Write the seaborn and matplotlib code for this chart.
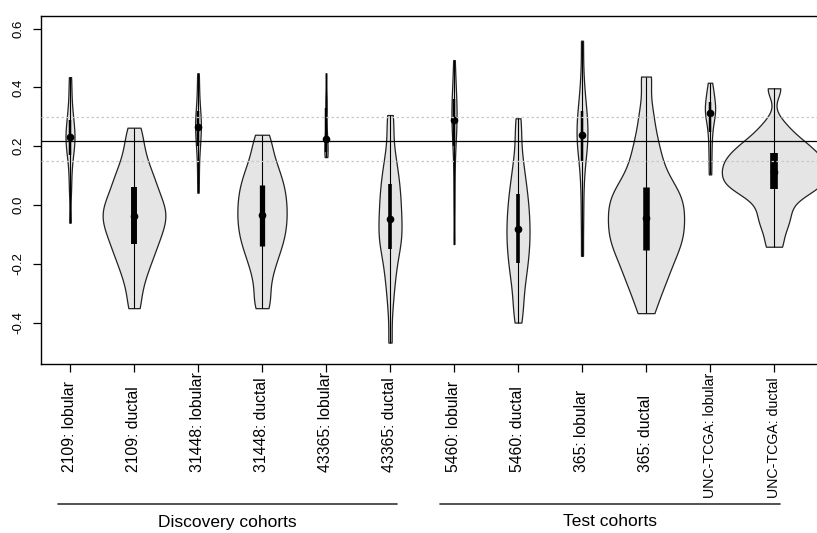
import numpy as np
import matplotlib
matplotlib.use("Agg")
import matplotlib.pyplot as plt
import matplotlib.transforms as mtransforms
import seaborn as sns

# categories (x axis)
labels = [
    "2109: lobular", "2109: ductal",
    "31448: lobular", "31448: ductal",
    "43365: lobular", "43365: ductal",
    "5460: lobular", "5460: ductal",
    "365: lobular", "365: ductal",
    "UNC-TCGA: lobular", "UNC-TCGA: ductal",
]
cohort_names = ["Discovery cohorts", "Test cohorts"]

# per-group values (quantile-like samples)
v_2109_lob = [-0.06, 0.05, 0.11, 0.16, 0.18, 0.20, 0.22, 0.23, 0.24, 0.26, 0.28, 0.30, 0.33, 0.38, 0.435]
v_2109_duc = [-0.351, -0.288, -0.242, -0.211, -0.185, -0.163, -0.143, -0.125, -0.108, -0.092,
              -0.077, -0.063, -0.050, -0.037, -0.025, -0.012, 0.002, 0.016, 0.031, 0.05,
              0.07, 0.088, 0.11, 0.135, 0.17, 0.212, 0.263]
v_31448_lob = [0.042, 0.10, 0.15, 0.19, 0.21, 0.23, 0.25, 0.264, 0.28, 0.29, 0.31, 0.33, 0.36, 0.40, 0.448]
v_31448_duc = [-0.351, -0.315, -0.262, -0.224, -0.193, -0.170, -0.149, -0.129, -0.113, -0.097,
               -0.081, -0.065, -0.050, -0.035, -0.020, -0.005, 0.011, 0.026, 0.042, 0.058,
               0.075, 0.092, 0.113, 0.136, 0.162, 0.203, 0.239]
v_43365_lob = [0.163, 0.17, 0.18, 0.20, 0.224, 0.25, 0.33, 0.36, 0.448]
v_43365_duc = [-0.468, -0.355, -0.289, -0.250, -0.215, -0.185, -0.160, -0.140, -0.125, -0.110,
               -0.095, -0.080, -0.062, -0.046, -0.029, -0.011, 0.007, 0.024, 0.042, 0.062,
               0.081, 0.102, 0.128, 0.155, 0.194, 0.267, 0.306]
v_5460_lob = [-0.133, 0.0, 0.10, 0.18, 0.22, 0.25, 0.27, 0.289, 0.31, 0.33, 0.35, 0.37, 0.40, 0.44, 0.493]
v_5460_duc = [-0.40, -0.36, -0.323, -0.282, -0.255, -0.228, -0.207, -0.188, -0.168, -0.149,
              -0.132, -0.115, -0.099, -0.082, -0.065, -0.047, -0.029, -0.012, 0.007, 0.027,
              0.048, 0.071, 0.098, 0.129, 0.169, 0.235, 0.295]
v_365_lob = [-0.173, -0.05, 0.05, 0.13, 0.17, 0.20, 0.22, 0.237, 0.26, 0.28, 0.31, 0.33, 0.37, 0.44, 0.559]
v_365_duc = [-0.368, -0.31, -0.275, -0.245, -0.22, -0.197, -0.175, -0.153, -0.138, -0.123,
             -0.107, -0.092, -0.076, -0.06, -0.045, -0.029, -0.013, 0.003, 0.018, 0.033,
             0.048, 0.062, 0.09, 0.12, 0.155, 0.195, 0.245, 0.32, 0.437]
v_unc_lob = [0.104, 0.16, 0.21, 0.25, 0.28, 0.30, 0.312, 0.325, 0.34, 0.35, 0.37, 0.39, 0.416]
v_unc_duc = [-0.142, -0.087, -0.050, -0.023, 0.012, 0.035, 0.05, 0.062, 0.067, 0.077,
             0.087, 0.098, 0.108, 0.118, 0.127, 0.137, 0.147, 0.157, 0.167, 0.178,
             0.191, 0.204, 0.220, 0.240, 0.276, 0.397]

samples = [v_2109_lob, v_2109_duc, v_31448_lob, v_31448_duc, v_43365_lob, v_43365_duc,
           v_5460_lob, v_5460_duc, v_365_lob, v_365_duc, v_unc_lob, v_unc_duc]

# reference lines
ref_line = 0.218
ref_band = [0.15, 0.30]
yticks = [-0.4, -0.2, 0.0, 0.2, 0.4, 0.6]

# styling: violin widths (category units)
violin_widths = [0.14, 0.98, 0.09, 0.77, 0.05, 0.36, 0.08, 0.36, 0.17, 1.19, 0.16, 1.63]
fill = "#e5e5e5"

sns.set_style("ticks")
plt.rcParams["font.family"] = ["Liberation Sans", "DejaVu Sans"]
plt.rcParams["text.color"] = "black"
plt.rcParams["ytick.labelcolor"] = "black"

W, H = 817, 533
fig = plt.figure(figsize=(W / 100, H / 100), dpi=100)
ax = fig.add_axes([41 / W, 1 - 364 / H, 1 - 41 / W, (364 - 16) / H])

for i, (lab, vals, w) in enumerate(zip(labels, samples, violin_widths)):
    sns.violinplot(x=[lab] * len(vals), y=vals, order=labels, width=w, cut=0,
                   density_norm="width", inner=None, color=fill, saturation=1,
                   linecolor="#222222", linewidth=0.9, bw_adjust=0.55, ax=ax)
    q1, med, q3 = np.percentile(vals, [25, 50, 75])
    # box width grows with the violin, like the original vioplot
    box_lw = max(2.5, 0.75 * np.sqrt(w * 64)) * 0.72
    ax.vlines(i, min(vals), max(vals), color="black", lw=0.8, zorder=3)
    ax.vlines(i, q1, q3, color="black", lw=box_lw, zorder=4, capstyle="butt")
    ax.plot(i, med, "o", color="black", ms=4.5, zorder=5)

ax.axhline(ref_line, color="black", lw=0.9, zorder=6)
for yb in ref_band:
    ax.axhline(yb, color="#c8c8c8", lw=0.9, ls=(0, (2, 2)), zorder=6)

ax.set_xlim((41 - 70) / 64, (817 - 70) / 64)
ax.set_ylim(-0.541, 0.643)
ax.set_xlabel("")
ax.set_ylabel("")

ax.set_yticks(yticks)
ax.set_yticklabels([f"{t:.1f}" for t in yticks], rotation=90, va="center", fontsize=9.5)
ax.set_xticks(range(len(labels)))
ax.set_xticklabels([])
ax.tick_params(axis="both", direction="out", length=5.8, width=0.9, color="black")
ax.tick_params(axis="y", pad=6)
for s in ["left", "top", "bottom"]:
    ax.spines[s].set_color("black")
    ax.spines[s].set_linewidth(1.0)
ax.spines["right"].set_visible(False)

# x labels anchored at their lower end
trans = mtransforms.blended_transform_factory(ax.transData, fig.transFigure)
for i, lab in enumerate(labels):
    if lab.startswith("UNC"):
        ax.text(i, 1 - 498 / H, lab, rotation=90, ha="center", va="bottom",
                fontsize=10.2, transform=trans, clip_on=False)
    else:
        ax.text(i, 1 - 472 / H, lab, rotation=90, ha="center", va="bottom",
                fontsize=11.3, transform=trans, clip_on=False)

# cohort brackets
spans = [((58 - 70) / 64, (397 - 70) / 64), ((440 - 70) / 64, (780 - 70) / 64)]
for name, (x0, x1) in zip(cohort_names, spans):
    ax.plot([x0, x1], [1 - 504 / H] * 2, color="#333333", lw=1.2,
            transform=trans, clip_on=False)
    ax.text((x0 + x1) / 2, 1 - 522 / H, name, ha="center", va="center", fontsize=12.5,
            transform=trans, clip_on=False)

fig.savefig("out.png", dpi=100)
